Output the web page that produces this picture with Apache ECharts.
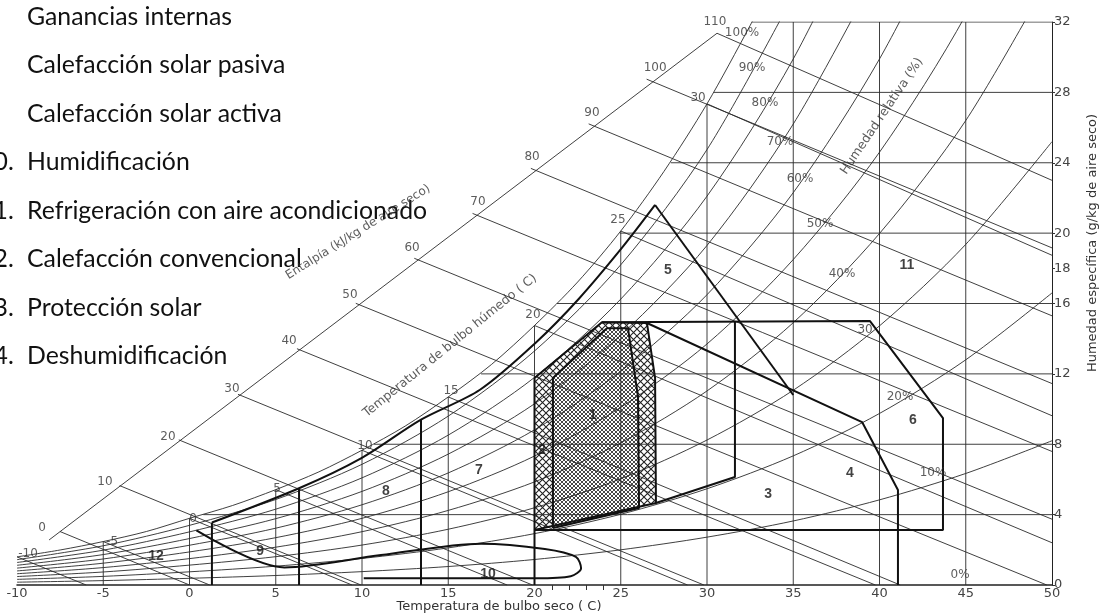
<!DOCTYPE html>
<html><head><meta charset="utf-8">
<script src="https://cdn.jsdelivr.net/npm/echarts@6/dist/echarts.min.js"></script>
<style>html,body{margin:0;padding:0;background:#fff}#c{width:1105px;height:615px}</style>
</head><body><div id="c"></div>
<script>
// ---------- data ----------
const dryBulbTicks = [-10,-5,0,5,10,15,20,25,30,35,40,45,50];
const humidityTicks = [0,4,8,12,16,18,20,24,28,32];
const minorDryTicks = [21,22,23,24];

const legendNumbers = ['7.','8.','9.','10.','11.','12.','13.','14.'];
const legendNames = ['Ganancias internas','Calefacción solar pasiva','Calefacción solar activa','Humidificación','Refrigeración con aire acondicionado','Calefacción convencional','Protección solar','Deshumidificación'];

// saturation curve (100 %)
const satT = [-10,-7.5,-5,-2.5,0,2.5,5,7.5,10,12.5,15,17.5,20,22.5,25,27.5,30,32.5,33];
const satW = [1.60,1.99,2.47,3.04,3.79,4.52,5.42,6.43,7.66,9.03,10.69,12.53,14.75,17.22,20.12,23.5,27.35,31.8,32.8];

// relative humidity curves, W (g/kg) at rhT
const rhT = [-10,-5,0,5,10,15,20,25,30,35,40,45,50];
const rh10 = [0.16,0.25,0.38,0.54,0.76,1.05,1.45,2.00,2.72,3.64,4.84,6.34,8.20];
const rh20 = [0.32,0.49,0.75,1.07,1.51,2.11,2.92,4.02,5.47,7.34,9.75,12.80,16.60];
const rh30 = [0.48,0.74,1.13,1.61,2.27,3.17,4.39,6.04,8.24,11.07,14.73,19.36,25.20];
const rh40 = [0.64,0.99,1.50,2.15,3.03,4.24,5.86,8.08,11.03,14.91,19.98,26.40,34.80];
const rh50 = [0.80,1.24,1.88,2.69,3.79,5.30,7.33,10.10,13.70,18.50,24.60,32.40,42.50];
const rh60 = [0.96,1.48,2.26,3.23,4.56,6.37,8.82,12.15,16.50,22.30,29.90,39.50];
const rh70 = [1.12,1.73,2.64,3.77,5.32,7.44,10.30,14.20,19.30,26.20,35.10];
const rh80 = [1.28,1.98,3.02,4.31,6.09,8.52,11.80,16.25,22.10,29.90,39.90];
const rh90 = [1.44,2.23,3.39,4.86,6.86,9.60,13.30,18.20,24.75,33.50];
const rhCurves = [rh10,rh20,rh30,rh40,rh50,rh60,rh70,rh80,rh90];

// grid lines
const vertT = [-5,0,5,10,15,20,25,30,35,40,45];
const vertTopW = [2.47,3.79,5.42,7.66,10.69,14.75,20.12,27.35,32,32,32];
const horizW = [4,8,12,16,20,24,28,32];
const horizStartT = [0.8,10.7,16.9,21.3,24.95,27.9,30.4,32.6];

// enthalpy scale and lines (kJ/kg)
const enthalpyScaleStart = [-8.14,2.56];
const enthalpyScaleEnd = [30.58,31.36];
const enthalpyValues = [0,10,20,30,40,50,60,70,80,90,100,110];
const enthStartT = [-7.51,-4.05,-0.62,2.81,6.23,9.64,13.03,16.41,19.79,23.14,26.50,30.58];
const enthStartW = [3.04,5.65,8.25,10.84,13.43,16.01,18.57,21.12,23.68,26.21,28.75,31.36];
const enthEndT = [0,9.94,19.88,29.82,39.76,49.7,50,50,50,50,50,50];
const enthEndW = [0,0,0,0,0,0,3.74,7.59,11.45,15.30,19.16,23.00];

// wet bulb lines (°C)
const wetBulbValues = [-10,-5,0,5,10,15,20,25,30];
const wbStartW = [1.60,2.47,3.79,5.42,7.66,10.69,14.75,20.12,27.35];
const wbEndT = [-5.99,1.17,9.42,18.41,28.87,41.2,50,50,50];
const wbEndW = [0,0,0,0,0,0,2.40,9.62,18.74];

// zone outlines [T, W]
const zoneComfortOuter = [[20.0,3.13],[20.0,11.76],[23.91,14.94],[26.52,14.89],[26.99,11.76],[27.04,4.66],[20.0,3.13]];
const zoneComfortInner = [[21.07,3.24],[21.07,11.76],[24.2,14.6],[25.42,14.6],[26.0,10.7],[26.06,4.38],[21.07,3.24]];
const zoneBig = [[23.91,14.94],[39.45,15.0],[43.68,9.49],[43.68,3.13],[20.0,3.13]];
const zone4Line = [[26.52,14.89],[38.99,9.26],[41.07,5.4],[41.07,0]];
const zone3Line = [[27.04,4.66],[31.62,6.14],[31.62,15.0]];
const zone5Line = [[26.99,21.6],[35.0,10.8]];
const boldCurve = [[1.3,3.55],[6.35,5.5],[9.94,7.2],[13.42,9.4],[16.84,11.1],[20.1,13.8],[22.6,16.3],[25.1,19.2],[26.99,21.6]];
const zoneVerticals = [[[1.3,0],[1.3,3.55]],[[6.35,0],[6.35,5.5]],[[13.42,0],[13.42,9.4]],[[20.0,0],[20.0,3.13]]];
const zone10Line = [[0.4,3.1],[5.5,1.0],[11.1,1.7],[16.9,2.35],[20.6,2.05],[22.4,1.6],[22.7,0.95],[22.1,0.5],[20.1,0.38],[10.1,0.38]];

// text annotations: [text, T, W]
const rhLabels = [['100%',32.03,31.36],['90%',32.61,29.4],['80%',33.36,27.4],['70%',34.23,25.2],['60%',35.39,23.1],['50%',36.55,20.5],['40%',37.83,17.7],['30',39.16,14.5],['20%',41.19,10.7],['10%',43.1,6.4],['0%',44.67,0.6]];
const wbLabels = [['-10',-9.36,1.76],['-5',-4.49,2.44],['0',0.2,3.75],['5',5.07,5.45],['10',10.17,7.9],['15',15.16,11.02],['20',19.91,15.34],['25',24.84,20.74],['30',29.48,27.67]];
const enthLabels = [['0',-8.55,3.24],['10',-4.9,5.85],['20',-1.25,8.41],['30',2.46,11.14],['40',5.77,13.86],['50',9.3,16.48],['60',12.9,19.15],['70',16.72,21.76],['80',19.86,24.32],['90',23.33,26.82],['100',26.99,29.38],['110',30.46,31.99]];
const zoneLabels = [['1',23.39,9.66],['2',20.43,7.67],['3',33.54,5.17],['4',38.29,6.36],['5',27.74,17.9],['6',41.94,9.37],['7',16.78,6.53],['8',11.39,5.34],['9',4.09,1.93],['10',17.3,0.63],['11',41.59,18.18],['12',-1.94,1.65]];

// ---------- chart ----------
function hatch(step, lw, color){
  const c = document.createElement('canvas'); c.width = step; c.height = step;
  const g = c.getContext('2d'); g.strokeStyle = color; g.lineWidth = lw;
  g.beginPath(); g.moveTo(0,0); g.lineTo(step,step); g.moveTo(step,0); g.lineTo(0,step); g.stroke();
  return c;
}
const coarse = hatch(7, 1.1, '#222');
const fine = hatch(4, 0.9, '#333');

const thin = {color:'#2a2a2a', width:0.9};
const bold = {color:'#111', width:2};
const series = [];
function line(data, style, smooth){
  series.push({type:'line', data:data, showSymbol:false, symbol:'none', smooth:smooth||false,
    lineStyle:style, silent:true, animation:false, clip:true, z:3});
}
line(satT.map((t,i)=>[t,satW[i]]), thin, 0.3);
rhCurves.forEach(c => line(c.map((w,i)=>[rhT[i],w]), thin, 0.3));
vertT.forEach((t,i)=>line([[t,0],[t,vertTopW[i]]], thin));
horizW.forEach((w,i)=>line([[horizStartT[i],w],[50,w]], thin));
line([enthalpyScaleStart, enthalpyScaleEnd], thin);
enthalpyValues.forEach((h,i)=>line([[enthStartT[i],enthStartW[i]],[enthEndT[i],enthEndW[i]]], thin));
wetBulbValues.forEach((t,i)=>line([[t,wbStartW[i]],[wbEndT[i],wbEndW[i]]], thin));
[zoneComfortOuter, zoneComfortInner, zoneBig, zone4Line, zone3Line, zone5Line].forEach(z=>line(z, bold));
line(boldCurve, bold, 0.3);
zoneVerticals.forEach(z=>line(z, bold));
line(zone10Line, bold, 0.3);

// hatched fills
series.push({type:'custom', silent:true, animation:false, z:1, clip:true, data:[0],
  renderItem: function(params, api){
    return {type:'polygon', shape:{points: zoneComfortOuter.map(p=>api.coord(p))},
      style:{fill:{image:coarse, repeat:'repeat'}, stroke:null}};
  }});
series.push({type:'custom', silent:true, animation:false, z:2, clip:true, data:[0],
  renderItem: function(params, api){
    return {type:'group', children:[
      {type:'polygon', shape:{points: zoneComfortInner.map(p=>api.coord(p))}, style:{fill:'#fff'}},
      {type:'polygon', shape:{points: zoneComfortInner.map(p=>api.coord(p))}, style:{fill:{image:fine, repeat:'repeat'}}}
    ]};
  }});

function labels(arr, font, extra){
  series.push({type:'scatter', symbolSize:1, itemStyle:{color:'rgba(0,0,0,0)'}, silent:true, animation:false, z:5,
    data: arr.map(a=>({value:[a[1],a[2]], name:a[0]})),
    label:Object.assign({show:true, position:'inside', formatter:p=>p.name, color:'#333', fontFamily:'DejaVu Sans', fontSize:font}, extra||{})
  });
}
labels(rhLabels, 12);
labels(wbLabels, 12);
labels(enthLabels, 12);
labels(zoneLabels, 14, {fontWeight:'bold', color:'#111', fontFamily:'Liberation Sans'});
labels([['Temperatura de bulbo húmedo ( C)', 15.1, 13.6]], 12.5, {rotate:39});
labels([['Entalpía (kJ/kg de aire seco)', 9.77, 20.06]], 12, {rotate:32});
labels([['Humedad relativa (%)', 40.14, 26.65]], 12.5, {rotate:56});

// legend font sized so the longest entry spans the width seen in the picture
const mctx = document.createElement('canvas').getContext('2d');
mctx.font = '20px Lato';
const longest = mctx.measureText('Refrigeración con aire acondicionado').width;
const legendFont = Math.round(20 * 400 / longest * 10) / 10;
mctx.font = legendFont + 'px Lato';
const numberX = 8 - mctx.measureText('10').width;   // list numbers hang off the left edge

const graphics = [];
legendNames.forEach((n,i)=>{
  const y = 17 + i*48.5;
  graphics.push({type:'text', x:numberX, y:y, style:{text:legendNumbers[i], font:legendFont+'px Lato', fill:'#111', align:'left', verticalAlign:'middle'}});
  graphics.push({type:'text', x:27, y:y, style:{text:n, font:legendFont+'px Lato', fill:'#111', align:'left', verticalAlign:'middle'}});
});
graphics.push({type:'text', x:1093, y:243, rotation:Math.PI/2, style:{text:'Humedad específica (g/kg de aire seco)', font:'13px DejaVu Sans', fill:'#333', align:'center', verticalAlign:'middle'}});
graphics.push({type:'text', x:499, y:607, style:{text:'Temperatura de bulbo seco ( C)', font:'13px DejaVu Sans', fill:'#333', align:'center', verticalAlign:'middle'}});

const chart = echarts.init(document.getElementById('c'), null, {renderer:'canvas'});
chart.setOption({
  animation:false,
  grid:{left:17, right:53, top:22, bottom:30},
  xAxis:[{type:'value', min:-10, max:50, interval:5, position:'bottom',
    axisLine:{show:true, onZero:false, lineStyle:{color:'#222', width:1.5}}, axisTick:{show:false}, splitLine:{show:false},
    axisLabel:{color:'#444', fontSize:13, fontFamily:'DejaVu Sans', margin:2}},
    {type:'value', min:-10, max:50, position:'bottom', axisLine:{show:false}, splitLine:{show:false},
     axisLabel:{show:false}, axisTick:{show:true, customValues:minorDryTicks, inside:false, length:5, lineStyle:{color:'#333'}}}],
  yAxis:{type:'value', min:0, max:32, position:'right', axisLine:{show:true, onZero:false, lineStyle:{color:'#222', width:1}},
    axisTick:{show:true, customValues:humidityTicks, length:3, lineStyle:{color:'#333'}}, splitLine:{show:false},
    axisLabel:{customValues:humidityTicks, color:'#444', fontSize:13, fontFamily:'DejaVu Sans', margin:2}},
  series: series,
  graphic: graphics
});
</script></body></html>
